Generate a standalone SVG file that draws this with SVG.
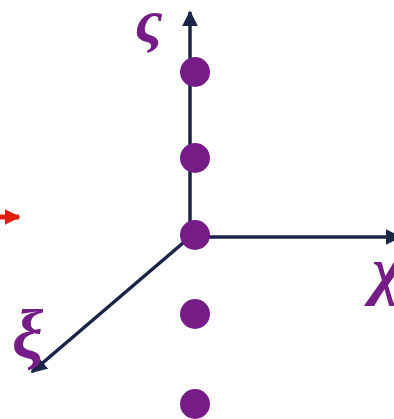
<svg xmlns="http://www.w3.org/2000/svg" width="394" height="419" viewBox="0 0 394 419">
<style>
.ax{stroke:#1a2447;stroke-width:3.5;fill:none}
.dot{fill:#761c87}
.lbl{fill:#761c87;font-family:"Liberation Serif","DejaVu Serif",serif;font-style:italic}
</style>
<defs>
<marker id="ah" viewBox="0 0 10 10" refX="9" refY="5" markerWidth="16" markerHeight="16" markerUnits="userSpaceOnUse" orient="auto">
<path d="M0,0 L10,5 L0,10 z" fill="#1a2447"/>
</marker>
<marker id="ahr" viewBox="0 0 10 10" refX="9" refY="5" markerWidth="16" markerHeight="16" markerUnits="userSpaceOnUse" orient="auto">
<path d="M0,0 L10,5 L0,10 z" fill="#e0200f"/>
</marker>
</defs>
<g id="connectors">
<line class="ax" x1="190" y1="237" x2="190" y2="12" marker-end="url(#ah)"/>
<line class="ax" x1="190" y1="237" x2="400" y2="237" marker-end="url(#ah)"/>
<line class="ax" x1="190" y1="237" x2="32" y2="372" marker-end="url(#ah)"/>
<line x1="0" y1="217" x2="19" y2="217" stroke="#e0200f" stroke-width="5" marker-end="url(#ahr)"/>
</g>
<g id="dot1"><circle class="dot" cx="195" cy="72" r="15"/></g>
<g id="dot2"><circle class="dot" cx="195" cy="158" r="15"/></g>
<g id="dot3"><circle class="dot" cx="195" cy="235" r="15"/></g>
<g id="dot4"><circle class="dot" cx="195" cy="314" r="15"/></g>
<g id="dot5"><circle class="dot" cx="195" cy="404" r="15"/></g>
<g id="label-sigma"><text class="lbl" x="135" y="42" font-size="62" font-style="normal" font-weight="bold">ς</text></g>
<g id="label-chi"><text class="lbl" x="372" y="292" font-size="66" font-weight="bold">χ</text></g>
<g id="label-xi"><text class="lbl" x="12" y="358" font-size="70" font-weight="bold">ξ</text></g>
</svg>
